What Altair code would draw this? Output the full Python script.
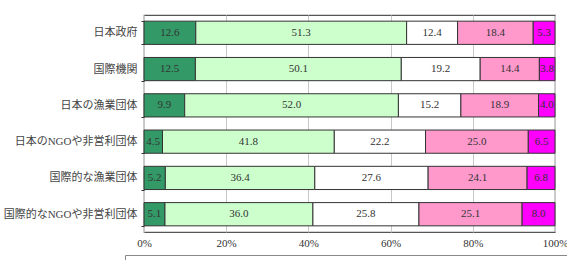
import altair as alt
import pandas as pd

categories = ["日本政府", "国際機関", "日本の漁業団体", "日本のNGOや非営利団体",
              "国際的な漁業団体", "国際的なNGOや非営利団体"]
series = ["信頼できる", "ある程度信頼できる", "どちらともいえない", "あまり信頼できない", "信頼できない"]
colors = ["#339966", "#CCFFCC", "#FFFFFF", "#FF99CC", "#FF00FF"]

s1 = [12.6, 12.5, 9.9, 4.5, 5.2, 5.1]
s2 = [51.3, 50.1, 52.0, 41.8, 36.4, 36.0]
s3 = [12.4, 19.2, 15.2, 22.2, 27.6, 25.8]
s4 = [18.4, 14.4, 18.9, 25.0, 24.1, 25.1]
s5 = [5.3, 3.8, 4.0, 6.5, 6.8, 8.0]
x_ticks = [0, 0.2, 0.4, 0.6, 0.8, 1.0]

rows = []
for si, (name, vals) in enumerate(zip(series, [s1, s2, s3, s4, s5])):
    for c, v in zip(categories, vals):
        rows.append({"cat": c, "series": name, "order": si, "value": v})
df = pd.DataFrame(rows)

FONT = "Liberation Serif, 'Noto Sans CJK JP'"

base = alt.Chart(df).transform_stack(
    stack="value", groupby=["cat"], as_=["x0", "x1"],
    sort=[alt.SortField("order")], offset="normalize"
).transform_calculate(mid="(datum.x0 + datum.x1) / 2")

y_enc = alt.Y("cat:N", sort=categories, title=None,
              scale=alt.Scale(paddingInner=0.36, paddingOuter=0.17),
              axis=alt.Axis(tickBand="extent", tickSize=3, tickColor="#333",
                            domain=False, labelPadding=4, labelFontSize=11,
                            labelColor="#444", labelFont=FONT))

bars = base.mark_bar(stroke="#333", strokeWidth=1).encode(
    x=alt.X("x0:Q", scale=alt.Scale(domain=[0, 1], nice=False), title=None,
            axis=alt.Axis(values=x_ticks, format=".0%", grid=True, gridColor="#c8c8c8",
                          ticks=False, domain=False, labelPadding=5, labelFontSize=11,
                          labelColor="#333", labelFont=FONT, labelFlush=False)),
    x2="x1:Q",
    y=y_enc,
    fill=alt.Fill("series:N", sort=series,
                  scale=alt.Scale(domain=series, range=colors),
                  legend=alt.Legend(title=None, orient="none", direction="horizontal",
                                    legendX=-19, legendY=240, strokeColor="#888",
                                    padding=16, labelFont=FONT, labelFontSize=11,
                                    symbolType="square", symbolStrokeColor="#333")),
)

labels = base.mark_text(fontSize=11, font=FONT, color="#333").encode(
    x=alt.X("mid:Q"),
    y=alt.Y("cat:N", sort=categories),
    text=alt.Text("value:Q", format=".1f"),
)

chart = (bars + labels).properties(
    width=411, height=217,
    autosize=alt.AutoSizeParams(type="none"),
    padding={"left": 144, "top": 15, "right": 12, "bottom": 28},
).configure_view(stroke="#555", strokeWidth=1.2)

chart.save("out.html", embed_options={"renderer": "svg", "actions": False})
